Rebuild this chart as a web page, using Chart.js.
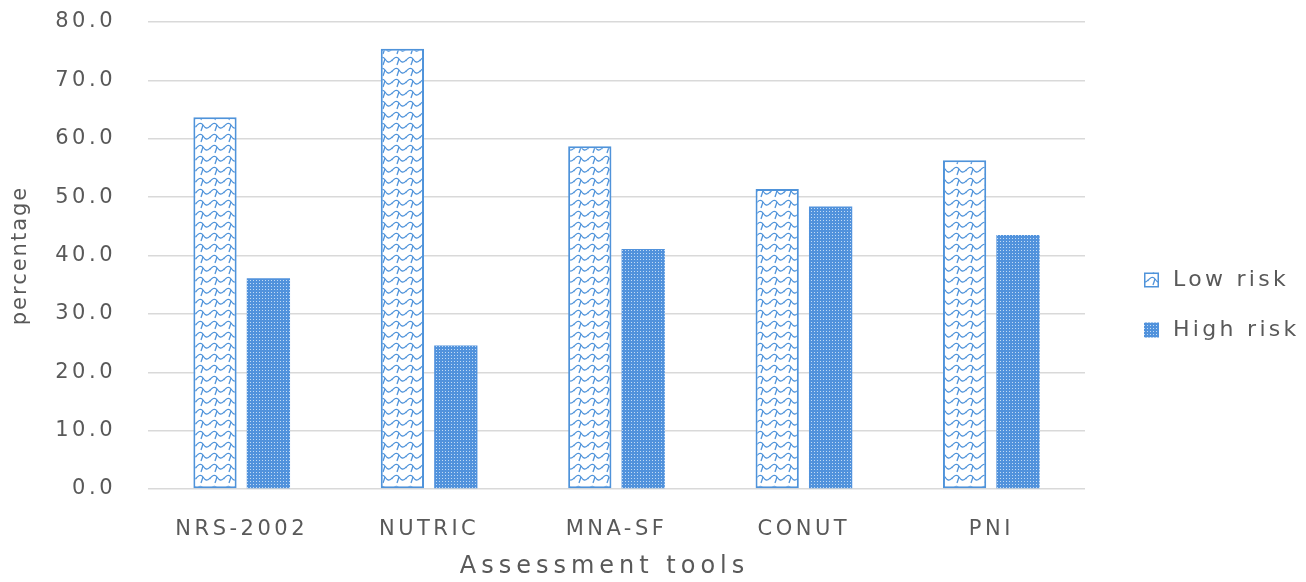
<!DOCTYPE html>
<html>
<head>
<meta charset="utf-8">
<script src="https://cdn.jsdelivr.net/npm/chart.js@4.4.1/dist/chart.umd.min.js"></script>
<style>
  html, body { margin: 0; padding: 0; background: #ffffff; }
  #wrap { width: 1306px; height: 582px; position: relative; }
</style>
</head>
<body>
<div id="wrap"><canvas id="chart" width="1306" height="582"></canvas></div>
<script>
// Share of patients classified by each nutritional assessment tool
const categories = ['NRS-2002', 'NUTRIC', 'MNA-SF', 'CONUT', 'PNI'];
const lowRisk = [63.7, 75.4, 58.7, 51.4, 56.3];
const highRisk = [36.1, 24.6, 41.1, 48.4, 43.5];
const seriesNames = ['Low risk', 'High risk'];
const yTicks = [0, 10, 20, 30, 40, 50, 60, 70, 80];
const xTitle = 'Assessment tools';
const yTitle = 'percentage';

const BLUE = '#4f93da';
const TEXT = '#595959';
const FONT = '"DejaVu Sans", "Open Sans", sans-serif';

// white fill with blue waves
function wavePattern() {
  const c = document.createElement('canvas');
  c.width = 14; c.height = 11;
  const g = c.getContext('2d');
  g.fillStyle = '#ffffff';
  g.fillRect(0, 0, 14, 11);
  g.strokeStyle = BLUE;
  g.lineWidth = 1.3;
  for (const dy of [-11, 0, 11]) {
    g.beginPath();
    g.moveTo(-1, 7 + dy);
    g.bezierCurveTo(2, 2 + dy, 5, 1 + dy, 7, 4 + dy);
    g.bezierCurveTo(9, 7 + dy, 11, 9 + dy, 15, 4 + dy);
    g.stroke();
    g.beginPath();
    g.moveTo(7, 4 + dy);
    g.lineTo(5, 10 + dy);
    g.stroke();
  }
  return g.createPattern(c, 'repeat');
}

// blue fill with small light dots
function dotPattern() {
  const c = document.createElement('canvas');
  c.width = 3; c.height = 3;
  const g = c.getContext('2d');
  g.fillStyle = '#5192dc';
  g.fillRect(0, 0, 3, 3);
  g.fillStyle = '#c2dbf5';
  g.fillRect(1, 1, 1, 1);
  return g.createPattern(c, 'repeat');
}

const ctx0 = document.getElementById('chart').getContext('2d');
const lowFill = wavePattern();
const highFill = dotPattern();

// wider letter spacing for the tick labels
const TICK_SPACING = '3.5px';
const spacing = {
  id: 'spacing',
  beforeUpdate(chart) { chart.ctx.letterSpacing = TICK_SPACING; },
  beforeLayout(chart) { chart.ctx.letterSpacing = TICK_SPACING; },
  beforeDraw(chart) { chart.ctx.letterSpacing = TICK_SPACING; }
};

// axis titles and the legend at the right
const extras = {
  id: 'extras',
  afterDraw(chart) {
    const ctx = chart.ctx;
    const area = chart.chartArea;

    ctx.save();
    ctx.fillStyle = TEXT;
    ctx.textBaseline = 'middle';

    // y title
    ctx.save();
    ctx.letterSpacing = '2px';
    ctx.font = '21px ' + FONT;
    ctx.translate(21, (area.top + area.bottom) / 2);
    ctx.rotate(-Math.PI / 2);
    ctx.textAlign = 'center';
    ctx.fillText(yTitle, 0, 0);
    ctx.restore();

    // x title
    ctx.save();
    ctx.letterSpacing = '5px';
    ctx.font = '24px ' + FONT;
    ctx.textAlign = 'center';
    ctx.fillText(xTitle, (area.left + area.right) / 2 - 12, 567);
    ctx.restore();

    // legend
    ctx.save();
    ctx.letterSpacing = '3.3px';
    ctx.font = '22px ' + FONT;
    ctx.textAlign = 'left';
    chart.data.datasets.forEach((ds, i) => {
      const cy = 280 + i * 50;
      const bx = 1144, size = 15;
      ctx.fillStyle = ds.backgroundColor;
      ctx.fillRect(bx, cy - size / 2, size, size);
      if (ds.borderWidth > 0) {
        ctx.strokeStyle = ds.borderColor;
        ctx.lineWidth = 1.5;
        ctx.strokeRect(bx + 0.75, cy - size / 2 + 0.75, size - 1.5, size - 1.5);
      }
      ctx.fillStyle = TEXT;
      ctx.fillText(ds.label, 1173, cy);
    });
    ctx.restore();

    ctx.restore();
  }
};

new Chart(ctx0, {
  type: 'bar',
  data: {
    labels: categories,
    datasets: [
      {
        label: seriesNames[0],
        data: lowRisk,
        backgroundColor: lowFill,
        borderColor: BLUE,
        borderWidth: 2,
        borderSkipped: false
      },
      {
        label: seriesNames[1],
        data: highRisk,
        backgroundColor: highFill,
        borderColor: '#5192dc',
        borderWidth: 0
      }
    ]
  },
  options: {
    responsive: false,
    animation: false,
    devicePixelRatio: 1,
    layout: { padding: { top: 22, right: 221, bottom: 0, left: 0 } },
    datasets: {
      bar: { categoryPercentage: 0.57, barPercentage: 0.81 }
    },
    plugins: {
      legend: { display: false },
      tooltip: { enabled: false },
      title: { display: false }
    },
    scales: {
      x: {
        grid: { display: false },
        border: { display: false },
        ticks: {
          color: TEXT,
          font: { family: FONT, size: 21 },
          padding: 20,
          maxRotation: 0
        },
        afterFit(s) { s.height = 93; s.paddingTop = 0; s.paddingBottom = 0; }
      },
      y: {
        min: 0,
        max: 80,
        border: { display: false },
        grid: { color: '#d9d9d9', lineWidth: 1.5, drawTicks: false },
        afterBuildTicks(s) { s.ticks = yTicks.map(v => ({ value: v })); },
        ticks: {
          color: TEXT,
          font: { family: FONT, size: 21 },
          padding: 32,
          callback: v => Number(v).toFixed(1)
        },
        afterFit(s) { s.width = 148; s.paddingTop = 0; s.paddingBottom = 0; }
      }
    }
  },
  plugins: [spacing, extras]
});
</script>
</body>
</html>
